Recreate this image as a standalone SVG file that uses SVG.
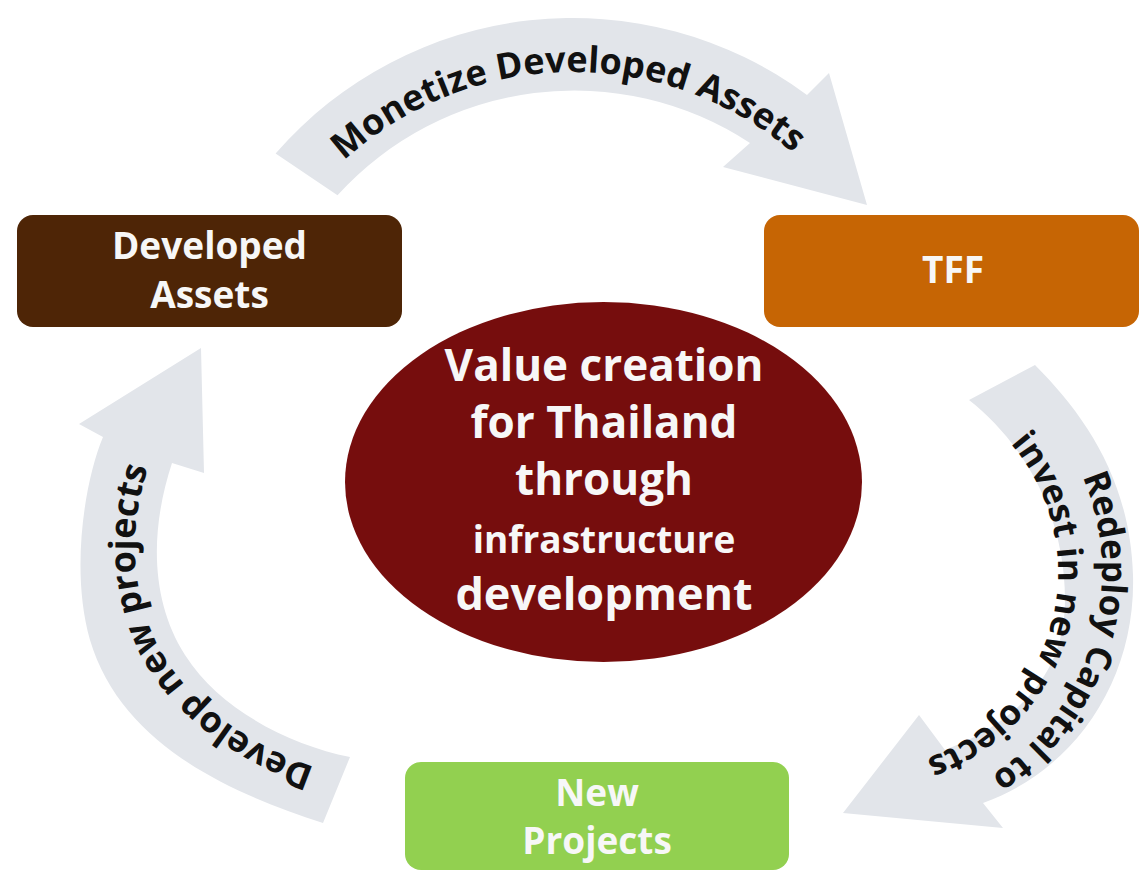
<svg xmlns="http://www.w3.org/2000/svg" width="1140" height="870" viewBox="0 0 1140 870">
  <style>
    .box-label { font-family: "Open Sans", "Liberation Sans", sans-serif; font-weight: 700; fill: #F7F7F7; text-anchor: middle; }
    .core-label { font-family: "Open Sans", "Liberation Sans", sans-serif; font-weight: 700; fill: #F7F7F7; text-anchor: middle; }
    .band { fill: #E2E5EA; stroke: none; }
    .band-label { font-family: "Open Sans", "Liberation Sans", sans-serif; font-weight: 700; font-size: 36px; fill: #111111; text-anchor: middle; }
    .band-label-small { font-size: 35px; }
  </style>
  <defs>
    <!-- baselines for the curved arrow captions, all running clockwise -->
    <path id="top-baseline" d="M312.5,193.5 A340,340 0 0 1 825.7,184.5"/>
    <path id="right-baseline-outer" d="M1073.7,458.4 A242,242 0 0 1 973.6,785.7"/>
    <path id="right-baseline-inner" d="M1000,432 A198,198 0 0 1 911.2,763.3"/>
    <path id="left-baseline" d="M345,776 C265,757 188,707 156,642 C128,582 130,520 150,462"/>
  </defs>

  <rect width="1140" height="870" fill="#FFFFFF"/>

  <!-- curved block arrows with their captions -->
  <g id="connectors">
    <g id="edge-monetize">
      <path class="band" d="M275.6,153.5 A394,394 0 0 1 807,95 L829,73 L867,205 L723,167 L750,143 A320,320 0 0 0 337.5,195.3 Z"/>
      <text class="band-label"><textPath href="#top-baseline" startOffset="50%">Monetize Developed Assets</textPath></text>
    </g>
    <g id="edge-redeploy">
      <path class="band" d="M1035,365 C1085,415 1130,480 1133,575 C1136,680 1075,770 983,803 L1003,828 L843,813 L919,715 L945,750 C1010,725 1065,680 1065,600 C1065,510 1020,440 969,400 Z"/>
      <text class="band-label band-label-small"><textPath href="#right-baseline-outer" startOffset="50%">Redeploy Capital to</textPath></text>
      <text class="band-label band-label-small"><textPath href="#right-baseline-inner" startOffset="50%">invest in new projects</textPath></text>
    </g>
    <g id="edge-develop">
      <path class="band" d="M323,823 C220,790 120,740 90,640 C70,570 85,480 103,437 L79,424 L201,348 L204,473 L172,463 C150,530 150,600 185,655 C220,710 290,745 350,757 Z"/>
      <text class="band-label"><textPath href="#left-baseline" startOffset="53%">Develop new projects</textPath></text>
    </g>
  </g>

  <g id="node-developed-assets">
    <rect x="17" y="215" width="385" height="112" rx="16" fill="#4E2506"/>
    <text class="box-label" x="209.5" y="259" font-size="37">Developed</text>
    <text class="box-label" x="209.5" y="308" font-size="37">Assets</text>
  </g>

  <g id="node-tff">
    <rect x="764" y="215" width="375" height="112" rx="16" fill="#C66504"/>
    <text class="box-label" x="953" y="283" font-size="37">TFF</text>
  </g>

  <g id="node-new-projects">
    <rect x="405" y="762" width="384" height="108" rx="16" fill="#92D050"/>
    <text class="box-label" x="597" y="806" font-size="37">New</text>
    <text class="box-label" x="597" y="854" font-size="37">Projects</text>
  </g>

  <g id="node-value-creation">
    <ellipse cx="603.5" cy="482" rx="258.5" ry="180" fill="#760D0D"/>
    <text class="core-label" x="604" y="381" font-size="44">Value creation</text>
    <text class="core-label" x="604" y="438" font-size="44">for Thailand</text>
    <text class="core-label" x="604" y="495" font-size="44">through</text>
    <text class="core-label" x="604" y="553" font-size="37">infrastructure</text>
    <text class="core-label" x="604" y="610" font-size="45">development</text>
  </g>
</svg>
